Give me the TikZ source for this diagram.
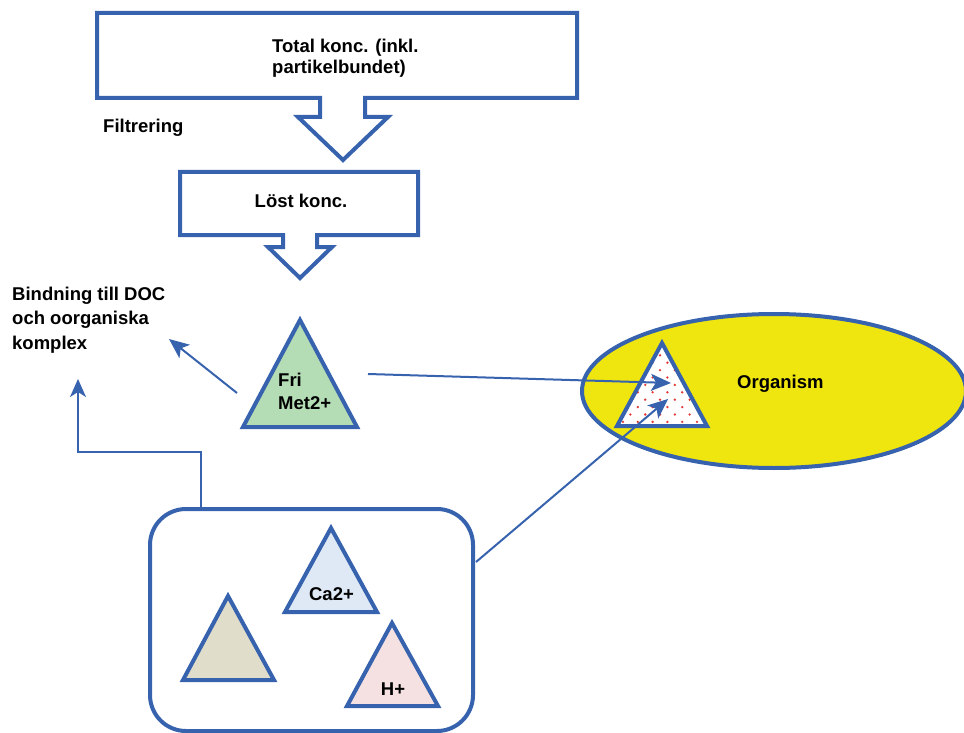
\documentclass[tikz,border=0pt]{standalone}
\usepackage{fontspec}
\setmainfont{Liberation Sans}
\usetikzlibrary{arrows.meta}
\definecolor{edge}{RGB}{54,98,174}
\definecolor{frifill}{RGB}{181,221,181}
\definecolor{cafill}{RGB}{222,233,245}
\definecolor{beige}{RGB}{224,221,203}
\definecolor{hfill}{RGB}{245,225,225}
\definecolor{orgfill}{RGB}{240,230,15}
\definecolor{dotred}{RGB}{228,52,52}
\begin{document}
\begin{tikzpicture}[x=1pt,y=-1pt,
  outline/.style={draw=edge,line width=4pt},
  conn/.style={draw=edge,line width=2pt,-{Stealth[length=20pt,width=17pt,inset=5pt]}},
  elbow/.style={draw=edge,line width=1.8pt,-{Stealth[length=18pt,width=16pt,inset=5pt]}},
  lbl/.style={font=\bfseries\fontsize{18.5}{23}\selectfont,inner sep=0pt,align=left}]
\useasboundingbox (0,0) rectangle (964,733);

% block arrow: total concentration
\draw[outline] (97,13) -- (577,13) -- (577,98) -- (365,98) -- (365,117) -- (388,117)
  -- (343,160) -- (298,117) -- (320,117) -- (320,98) -- (97,98) -- cycle;
% multi-line labels are anchored at the baseline of their last line
\node[lbl,anchor=base west,font=\bfseries\fontsize{18.5}{21}\selectfont] (tot) at (272,74)
  {Total konc. (inkl.\\partikelbundet)};
\node[lbl,anchor=base west] (filt) at (103,133) {Filtrering};

% block arrow: dissolved concentration
\draw[outline] (180,172) -- (418,172) -- (418,235) -- (317,235) -- (317,247) -- (332,247)
  -- (300,278) -- (268,247) -- (283,247) -- (283,235) -- (180,235) -- cycle;
\node[lbl,anchor=base] (lost) at (301,207) {Löst konc.};

% binding label
\node[lbl,anchor=base west,font=\bfseries\fontsize{18.5}{24.5}\selectfont] (bind) at (12,349)
  {Bindning till DOC\\och oorganiska\\komplex};

% free metal ion
\draw[outline,fill=frifill] (300,320) -- (357,427) -- (243,427) -- cycle;
\node[lbl,anchor=base west] (fri) at (278,409) {Fri\\Met2+};

% organism with the dotted (taken-up) ion
\draw[outline,fill=orgfill] (774,391) ellipse [x radius=192pt, y radius=77pt];
\node[lbl,anchor=base west] (org) at (737,388) {Organism};
\begin{scope}
  \clip (662,343) -- (707,426) -- (617,426) -- cycle;
  \fill[white] (610,340) rectangle (712,430);
  \foreach \r in {-1,...,11} {
    \foreach \c in {-4,...,4} {
      \fill[dotred] ({660+\c*14.8+mod(\r+2,2)*7.4},{355.3+\r*7.4}) circle (1.3pt);
    }
  }
\end{scope}
\draw[outline] (662,343) -- (707,426) -- (617,426) -- cycle;

% competing ions
\draw[outline,rounded corners=36pt] (150,509) rectangle (473,731);
\draw[outline,fill=cafill] (331,528) -- (377,612) -- (285,612) -- cycle;
\node[lbl,anchor=base] (ca) at (331.5,600) {Ca2+};
\draw[outline,fill=beige] (228,596) -- (274,680) -- (183,680) -- cycle;
\draw[outline,fill=hfill] (392,623) -- (438,706) -- (347,706) -- cycle;
\node[lbl,anchor=base] (hp) at (393,695) {H+};

% connectors
\coordinate (friR) at (368,374);
\coordinate (orgA) at (671,383);
\coordinate (boxR) at (476,562);
\coordinate (orgB) at (668,399);
\coordinate (friL) at (237,393);
\coordinate (bindA) at (169,339);
\coordinate (boxT) at (201,507);
\coordinate (bindB) at (78,379);
\draw[conn] (friR) -- (orgA);
\draw[conn] (boxR) -- (orgB);
\draw[conn] (friL) -- (bindA);
\draw[elbow] (boxT) -- ++(0,-55) -| (bindB);
\end{tikzpicture}
\end{document}
